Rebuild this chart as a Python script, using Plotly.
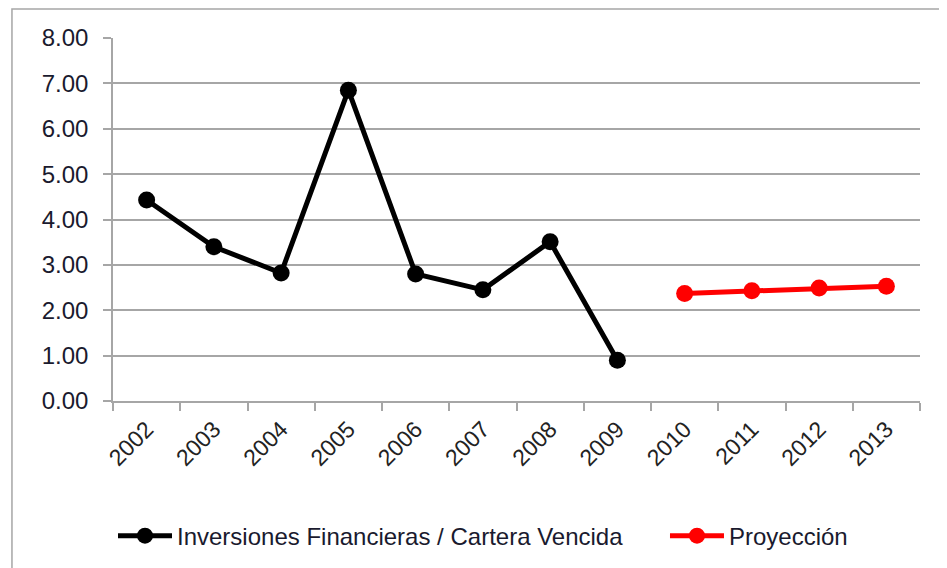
import plotly.graph_objects as go

years = ["2002", "2003", "2004", "2005", "2006", "2007", "2008", "2009",
         "2010", "2011", "2012", "2013"]
hist_years = years[:8]
hist_values = [4.43, 3.40, 2.82, 6.85, 2.80, 2.45, 3.51, 0.90]
proj_years = years[8:]
proj_values = [2.37, 2.43, 2.49, 2.53]
y_tick_vals = [0, 1, 2, 3, 4, 5, 6, 7, 8]
y_tick_text = ["0.00", "1.00", "2.00", "3.00", "4.00", "5.00", "6.00", "7.00", "8.00"]

fig = go.Figure()
fig.add_trace(go.Scatter(
    x=hist_years, y=hist_values, mode="lines+markers",
    name="Inversiones Financieras / Cartera Vencida",
    line=dict(color="black", width=5),
    marker=dict(size=17, color="black"),
    legend="legend",
))
fig.add_trace(go.Scatter(
    x=proj_years, y=proj_values, mode="lines+markers",
    name="Proyección",
    line=dict(color="#ff0000", width=5),
    marker=dict(size=17, color="#ff0000"),
    legend="legend2",
))

grid = "#a6a6a6"
leg_common = dict(orientation="h", xanchor="left", y=-0.372, yanchor="middle",
                  font=dict(size=24, color="#1a1a2e"), itemwidth=54,
                  bgcolor="rgba(0,0,0,0)")
fig.update_layout(
    width=939, height=560,
    margin=dict(l=105, r=27, t=30, b=167, autoexpand=False),
    plot_bgcolor="white", paper_bgcolor="white",
    font=dict(family="Liberation Sans, Arial, sans-serif", size=22, color="black"),
    showlegend=True,
    legend=dict(x=0.0, **leg_common),
    legend2=dict(x=0.684, **leg_common),
    shapes=[dict(type="rect", xref="paper", yref="paper",
                 x0=-0.1252, x1=1.06, y0=-0.5, y1=1.0799,
                 line=dict(color=grid, width=1.5), layer="below")],
)
fig.update_xaxes(
    type="category", categoryorder="array", categoryarray=years,
    range=[-0.5, 11.5], tickson="boundaries", ticks="outside", ticklen=8,
    tickcolor=grid, tickwidth=1.5, showline=True, linecolor=grid, linewidth=1.5,
    showgrid=False, tickangle=-45, tickfont=dict(size=23, color="#222"),
    ticklabelstandoff=4, automargin=False,
)
fig.update_yaxes(
    range=[0, 8], tickvals=y_tick_vals, ticktext=y_tick_text,
    ticks="outside", ticklen=8, tickcolor=grid, tickwidth=1.5,
    showline=True, linecolor=grid, linewidth=1.5,
    showgrid=True, gridcolor=grid, gridwidth=1.5, zeroline=False,
    ticklabelstandoff=10, tickfont=dict(size=24, color="#1a1a2e"),
    automargin=False,
)

fig.write_html("out.html")
